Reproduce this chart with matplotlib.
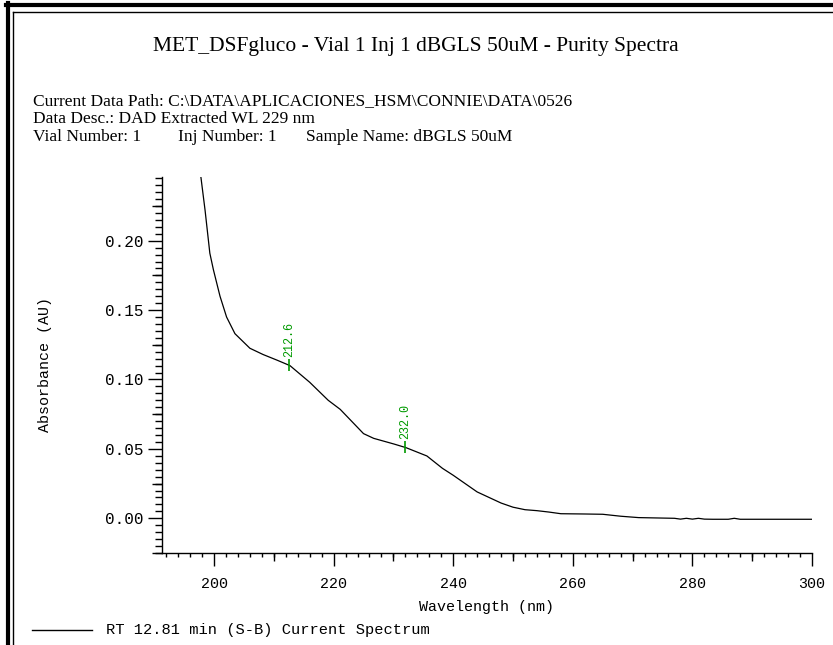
import matplotlib
matplotlib.use('Agg')
import matplotlib.pyplot as plt
from matplotlib.ticker import MultipleLocator, FixedLocator, NullFormatter
from matplotlib.lines import Line2D
import numpy as np

# Spectrum (wavelength in nm, absorbance in AU)
wavelength = [197.8, 198.5, 199.3, 199.9, 201.0, 202.1, 203.5, 206.0, 208.2, 210.5,
              212.7, 216.0, 219.1, 221.1, 225.0, 226.7, 230.1, 232.1, 235.6, 238.2,
              240.0, 242.0, 244.0, 246.0, 248.0, 250.0, 252.0, 254.0, 256.0, 258.0,
              262.0, 265.0, 268.0, 271.0, 277.0, 278.0, 279.0, 280.0, 281.0, 282.0,
              283.4, 286.0, 287.0, 288.0, 289.0, 300.0]
absorbance = [0.246, 0.222, 0.191, 0.179, 0.160, 0.145, 0.133, 0.1225, 0.118, 0.114,
              0.110, 0.098, 0.085, 0.0785, 0.061, 0.0576, 0.0535, 0.0509, 0.0449, 0.036,
              0.031, 0.025, 0.019, 0.015, 0.011, 0.008, 0.0062, 0.0055, 0.0045, 0.0033,
              0.0031, 0.0029, 0.0015, 0.0005, 0.0, -0.0006, 0.0, -0.0006, 0.0, -0.0006,
              -0.0007, -0.0007, 0.0, -0.0007, -0.0007, -0.0007]

peak_marks = [212.6, 232.0]

title = 'MET_DSFgluco - Vial 1 Inj 1 dBGLS 50uM - Purity Spectra'
header_lines = ['Current Data Path: C:\\DATA\\APLICACIONES_HSM\\CONNIE\\DATA\\0526',
                'Data Desc.: DAD Extracted WL 229 nm']
vial_fields = ['Vial Number: 1', 'Inj Number: 1', 'Sample Name: dBGLS 50uM']
legend_label = 'RT 12.81 min (S-B) Current Spectrum'

W, H = 833, 645
mono = 'Liberation Mono'
serif = 'Liberation Serif'
green = '#009a00'

fig = plt.figure(figsize=(W / 100, H / 100), dpi=100)
fig.patch.set_facecolor('white')

def fx(px):
    return px / W

def fy(py):
    return 1 - py / H

# window frame (thick + thin lines on top and left)
fig.add_artist(Line2D([fx(8), fx(8)], [0, fy(3)], color='black', lw=3.0))
fig.add_artist(Line2D([fx(6), 1], [fy(5), fy(5)], color='black', lw=3.0))
fig.add_artist(Line2D([fx(13), fx(13)], [0, fy(12)], color='black', lw=1.0))
fig.add_artist(Line2D([fx(13), 1], [fy(12), fy(12)], color='black', lw=1.0))

# header texts
fig.text(fx(416), fy(47), title, family=serif, fontsize=15.5, ha='center', va='center')
for i, line in enumerate(header_lines):
    fig.text(fx(33), fy(101 + 18 * i), line, family=serif, fontsize=12.5, ha='left', va='center')
for x, field in zip([33, 178, 306], vial_fields):
    fig.text(fx(x), fy(137), field, family=serif, fontsize=12.5, ha='left', va='center')

# plot area
ax = fig.add_axes([fx(161.7), fy(553), fx(812) - fx(161.7), fy(176.7) - fy(553)])
ax.plot(wavelength, absorbance, color='black', lw=0.9)
ax.set_xlim(191.25, 300)
ax.set_ylim(-0.025, 0.2461)

for s in ['top', 'right']:
    ax.spines[s].set_visible(False)
for s in ['left', 'bottom']:
    ax.spines[s].set_linewidth(1.0)

ax.xaxis.set_major_locator(MultipleLocator(20))
ax.xaxis.set_minor_locator(MultipleLocator(2))
ax.yaxis.set_major_locator(MultipleLocator(0.05))
ax.yaxis.set_minor_locator(MultipleLocator(0.005))
ax.yaxis.set_major_formatter(plt.FuncFormatter(lambda v, p: '%.2f' % v))
ax.tick_params(axis='x', which='major', length=9.5, width=1, pad=8, labelsize=10.8)
ax.tick_params(axis='x', which='minor', length=3, width=1)
ax.tick_params(axis='y', which='major', length=10, width=1, pad=3, labelsize=11.5)
ax.tick_params(axis='y', which='minor', length=5, width=1)
for lab in ax.get_xticklabels() + ax.get_yticklabels():
    lab.set_family(mono)

# medium ticks every 10 nm / 0.025 AU
secx = ax.secondary_xaxis('bottom')
secx.xaxis.set_major_locator(FixedLocator(np.arange(210, 300, 20)))
secx.xaxis.set_major_formatter(NullFormatter())
secx.tick_params(length=6, width=1)
secx.spines['bottom'].set_visible(False)
secy = ax.secondary_yaxis('left')
secy.yaxis.set_major_locator(FixedLocator([-0.025, 0.025, 0.075, 0.125, 0.175, 0.225]))
secy.yaxis.set_major_formatter(NullFormatter())
secy.tick_params(length=7.5, width=1)
secy.spines['left'].set_visible(False)

ax.set_xlabel('Wavelength (nm)', family=mono, fontsize=10.8, labelpad=6)
ax.set_ylabel('Absorbance (AU)', family=mono, fontsize=10.8, labelpad=38)

# purity marks
for wl in peak_marks:
    a = np.interp(wl, wavelength, absorbance)
    ax.plot([wl], [a], marker='|', ms=9, mew=1.2, color=green)
    ax.annotate('%.1f' % wl, (wl, a), xytext=(0, 6), textcoords='offset points',
                rotation=90, ha='center', va='bottom', color=green,
                family=mono, fontsize=8.5)

# legend line at the bottom
fig.add_artist(Line2D([fx(32), fx(92)], [fy(630), fy(630)], color='black', lw=1.0))
fig.text(fx(106), fy(630), legend_label, family=mono, fontsize=11.1, ha='left', va='center')

fig.savefig('out.png', dpi=100)
